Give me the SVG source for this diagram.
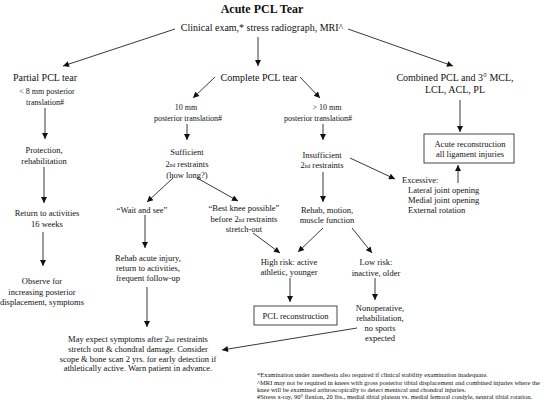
<svg xmlns="http://www.w3.org/2000/svg" width="550" height="404" viewBox="0 0 550 404">
<defs>
<marker id="ah" viewBox="0 0 10 10" refX="10" refY="5" markerWidth="7" markerHeight="6" markerUnits="userSpaceOnUse" orient="auto">
<path d="M0,0 L10,5 L0,10 z" fill="#111"/>
</marker>
</defs>
<style>
text{font-family:"Liberation Serif","Times New Roman",serif;fill:#111;text-anchor:middle}
.t{font-size:12px;font-weight:bold}
.l1{font-size:10px}
.l2{font-size:8.5px}
.s{font-size:8px}
.fn{font-size:6.5px;text-anchor:start}
.la{text-anchor:start}
.sub{font-size:5.5px}
#connectors line{stroke:#222;stroke-width:0.9;marker-end:url(#ah)}
.box{fill:#fff;stroke:#333;stroke-width:0.9}
</style>
<rect width="550" height="404" fill="#fff"/>
<g id="connectors">
<line x1="175" y1="29" x2="63" y2="66"/>
<line x1="258" y1="37" x2="258" y2="66"/>
<line x1="348" y1="29" x2="453" y2="66"/>
<line x1="45" y1="108" x2="45" y2="139"/>
<line x1="44" y1="167" x2="44" y2="203"/>
<line x1="43" y1="232" x2="43" y2="266"/>
<line x1="215" y1="77" x2="193" y2="98"/>
<line x1="300" y1="77" x2="320" y2="98"/>
<line x1="460" y1="100" x2="460" y2="132"/>
<line x1="187" y1="124" x2="187" y2="140"/>
<line x1="323" y1="124" x2="323" y2="140"/>
<line x1="173" y1="178" x2="147" y2="202"/>
<line x1="197" y1="178" x2="238" y2="201"/>
<line x1="350" y1="158" x2="395" y2="179"/>
<line x1="458" y1="183" x2="458" y2="165"/>
<line x1="323" y1="172" x2="323" y2="202"/>
<line x1="145" y1="215" x2="145" y2="248"/>
<line x1="323" y1="228" x2="298" y2="252"/>
<line x1="352" y1="228" x2="372" y2="253"/>
<line x1="253" y1="233" x2="280" y2="253"/>
<line x1="290" y1="278" x2="290" y2="302"/>
<line x1="375" y1="278" x2="375" y2="300"/>
<line x1="147" y1="287" x2="147" y2="327"/>
<line x1="357" y1="328" x2="222" y2="350"/>
</g>
<g id="title"><text class="t" x="262" y="13">Acute PCL Tear</text></g>
<g id="clinical"><text class="l1" x="262" y="31">Clinical exam,* stress radiograph, MRI^</text></g>
<g id="partial">
<text class="l1" x="45" y="81">Partial PCL tear</text>
<text class="s" x="47" y="94">&lt; 8 mm posterior</text>
<text class="s" x="45" y="105">translation#</text>
</g>
<g id="complete"><text class="l1" x="259" y="81">Complete PCL tear</text></g>
<g id="combined">
<text class="l1" x="455" y="81">Combined PCL and 3° MCL,</text>
<text class="l1" x="455" y="93">LCL, ACL, PL</text>
</g>
<g id="tenmm">
<text class="s" x="186" y="110">10 mm</text>
<text class="s" x="188" y="121">posterior translation#</text>
</g>
<g id="gttenmm">
<text class="s" x="327" y="110">&gt; 10 mm</text>
<text class="s" x="318" y="121">posterior translation#</text>
</g>
<g id="protection">
<text class="l2" x="44" y="153">Protection,</text>
<text class="l2" x="44" y="164">rehabilitation</text>
</g>
<g id="sufficient">
<text class="l2" x="187" y="155">Sufficient</text>
<text class="l2" x="187" y="167">2<tspan class="sub">nd</tspan> restraints</text>
<text class="l2" x="187" y="178">(how long?)</text>
</g>
<g id="insufficient">
<text class="l2" x="322" y="158">Insufficient</text>
<text class="l2" x="322" y="168">2<tspan class="sub">nd</tspan> restraints</text>
</g>
<g id="acute-recon">
<rect class="box" x="424" y="134" width="90" height="29"/>
<text class="l2" x="470" y="147">Acute reconstruction</text>
<text class="l2" x="470" y="157">all ligament injuries</text>
</g>
<g id="excessive">
<text class="l2 la" x="402" y="183">Excessive:</text>
<text class="l2 la" x="408" y="193">Lateral joint opening</text>
<text class="l2 la" x="408" y="203">Medial joint opening</text>
<text class="l2 la" x="408" y="213">External rotation</text>
</g>
<g id="return">
<text class="l2" x="47" y="216">Return to activities</text>
<text class="l2" x="47" y="227">16 weeks</text>
</g>
<g id="wait"><text class="l2" x="142" y="213">“Wait and see”</text></g>
<g id="best">
<text class="l2" x="244" y="211">“Best knee possible”</text>
<text class="l2" x="244" y="222">before 2<tspan class="sub">nd</tspan> restraints</text>
<text class="l2" x="244" y="232">stretch-out</text>
</g>
<g id="rehab-motion">
<text class="l2" x="327" y="213">Rehab, motion,</text>
<text class="l2" x="327" y="223">muscle function</text>
</g>
<g id="rehab-acute">
<text class="l2" x="148" y="261">Rehab acute injury,</text>
<text class="l2" x="148" y="271">return to activities,</text>
<text class="l2" x="148" y="281">frequent follow-up</text>
</g>
<g id="high-risk">
<text class="l2" x="289" y="265">High risk: active</text>
<text class="l2" x="289" y="275">athletic, younger</text>
</g>
<g id="low-risk">
<text class="l2" x="376" y="265">Low risk:</text>
<text class="l2" x="376" y="276">inactive, older</text>
</g>
<g id="observe">
<text class="l2" x="42" y="284">Observe for</text>
<text class="l2" x="42" y="295">increasing posterior</text>
<text class="l2" x="42" y="305">displacement, symptoms</text>
</g>
<g id="pcl-recon">
<rect class="box" x="254" y="306" width="83" height="19"/>
<text class="l2" x="295.5" y="319">PCL reconstruction</text>
</g>
<g id="nonop">
<text class="l2" x="380" y="311">Nonoperative,</text>
<text class="l2" x="380" y="321">rehabilitation,</text>
<text class="l2" x="380" y="331">no sports</text>
<text class="l2" x="380" y="341">expected</text>
</g>
<g id="may-expect">
<text class="l2" x="138" y="342">May expect symptoms after 2<tspan class="sub">nd</tspan> restraints</text>
<text class="l2" x="138" y="352">stretch out &amp; chondral damage. Consider</text>
<text class="l2" x="138" y="362">scope &amp; bone scan 2 yrs. for early detection if</text>
<text class="l2" x="138" y="371">athletically active. Warn patient in advance.</text>
</g>
<g id="footnotes">
<text class="fn" x="257" y="377">*Examination under anesthesia also required if clinical stability examination inadequate.</text>
<text class="fn" x="257" y="385">^MRI may not be required in knees with gross posterior tibial displacement and combined injuries where the</text>
<text class="fn" x="257" y="392">knee will be examined arthroscopically to detect meniscal and chondral injuries.</text>
<text class="fn" x="257" y="399">#Stress x-ray, 90° flexion, 20 lbs., medial tibial plateau vs. medial femoral condyle, neutral tibial rotation.</text>
</g>
</svg>
